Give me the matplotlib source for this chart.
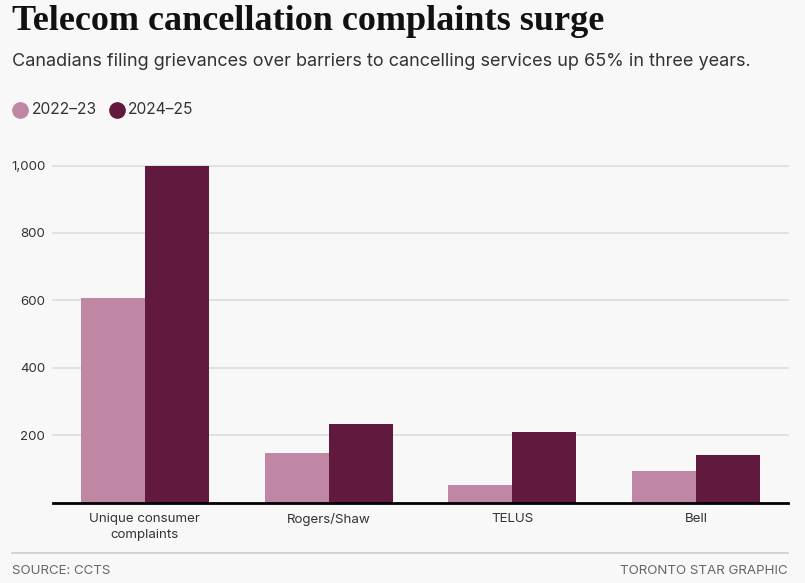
import matplotlib
matplotlib.use("Agg")
import matplotlib.pyplot as plt
from matplotlib.lines import Line2D
import numpy as np

categories = ["Unique consumer\ncomplaints", "Rogers/Shaw", "TELUS", "Bell"]
series_names = ["2022\u201323", "2024\u201325"]
values_2022_23 = [607, 147, 52, 94]
values_2024_25 = [1000, 233, 210, 141]
y_ticks = [200, 400, 600, 800, 1000]
y_tick_labels = ["200", "400", "600", "800", "1,000"]

light = "#bf87a3"
dark = "#62193e"
bg = "#f8f8f8"
text_col = "#333333"

plt.rcParams['font.family'] = ['Inter', 'DejaVu Sans']

W, H = 805, 583
fig = plt.figure(figsize=(W / 100, H / 100), dpi=100, facecolor=bg)

ax_left, ax_right = 53 / W, 788 / W
ax_bottom, ax_top = (H - 502.5) / H, (H - 165.5) / H
ax = fig.add_axes([ax_left, ax_bottom, ax_right - ax_left, ax_top - ax_bottom])
ax.set_facecolor(bg)

x = np.arange(len(categories))
bw = 64 / 184
ax.bar(x - bw / 2, values_2022_23, width=bw, color=light, zorder=2)
ax.bar(x + bw / 2, values_2024_25, width=bw, color=dark, zorder=2)

ax.set_xlim(-0.5, len(categories) - 0.5)
ax.set_ylim(0, 1000)
ax.set_yticks(y_ticks)
ax.set_yticklabels(y_tick_labels)
ax.yaxis.grid(True, color="#dddddd", linewidth=1.2, zorder=0)
for gl in ax.get_ygridlines():
    gl.set_clip_on(False)
ax.set_axisbelow(True)
ax.set_xticks(x)
ax.set_xticklabels(categories, linespacing=1.4)
ax.tick_params(axis="both", length=0, labelsize=9.6, labelcolor=text_col)
ax.tick_params(axis="y", pad=5.5)
ax.tick_params(axis="x", pad=7.5)
for s in ["top", "right", "left"]:
    ax.spines[s].set_visible(False)
ax.spines["bottom"].set_color("black")
ax.spines["bottom"].set_linewidth(2)
ax.spines["bottom"].set_zorder(3)

# Title & subtitle
fig.text(12 / W, 1 - 22 / H, "Telecom cancellation complaints surge",
         fontsize=26, fontweight="bold", family=["Liberation Serif"],
         color="#111111", va="center", ha="left")
fig.text(12 / W, 1 - 62 / H,
         "Canadians filing grievances over barriers to cancelling services up 65% in three years.",
         fontsize=13, color=text_col, va="center", ha="left")

# Legend
leg_y = 1 - 110 / H
for cx, tx, col, name in [(20, 32, light, series_names[0]), (117, 128, dark, series_names[1])]:
    fig.add_artist(Line2D([cx / W], [leg_y], marker="o", markersize=11,
                          color=col, linestyle="none", transform=fig.transFigure))
    fig.text(tx / W, leg_y, name, fontsize=11.2, color=text_col, va="center", ha="left")

# Footer
fig.add_artist(Line2D([12 / W, 788 / W], [1 - 553 / H, 1 - 553 / H],
                      color="#cccccc", linewidth=1.2, transform=fig.transFigure))
fig.text(12 / W, 1 - 571 / H, "SOURCE: CCTS", fontsize=9.6, color="#666666",
         va="center", ha="left")
fig.text(788 / W, 1 - 571 / H, "TORONTO STAR GRAPHIC", fontsize=9.6, color="#666666",
         va="center", ha="right")

fig.savefig("out.png", dpi=100, facecolor=bg)
